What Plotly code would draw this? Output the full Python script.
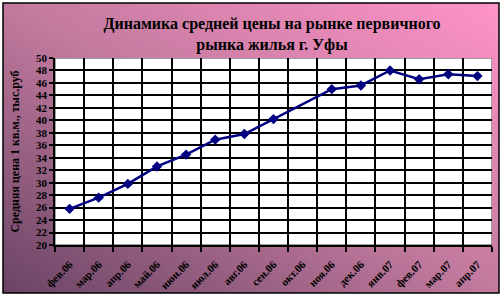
import base64
import plotly.graph_objects as go

months = ["фев.06", "мар.06", "апр.06", "май.06", "июн.06", "июл.06", "авг.06",
          "сен.06", "окт.06", "ноя.06", "дек.06", "янв.07", "фев.07", "мар.07", "апр.07"]
prices = [25.8, 27.6, 29.8, 32.6, 34.5, 36.9, 37.8, 40.2, None, 45.0, 45.6, 48.0, 46.6, 47.4, 47.1]
y_ticks = list(range(20, 51, 2))

W, H = 504, 298
L, R, T, B = 55, 12, 58, 53
pw, ph = W - L - R, H - T - B

def px2paper_x(px):
    return (px - L) / pw

def px2paper_y(py):
    return (H - B - py) / ph

svg = ('<svg xmlns="http://www.w3.org/2000/svg" width="100" height="100" preserveAspectRatio="none">'
       '<defs><linearGradient id="g" x1="0" y1="1" x2="1" y2="0">'
       '<stop offset="0" stop-color="#6a4464"/>'
       '<stop offset="0.5" stop-color="#c27a9e"/>'
       '<stop offset="1" stop-color="#ff93c8"/>'
       '</linearGradient></defs>'
       '<rect width="100" height="100" fill="url(#g)"/></svg>')
src = "data:image/svg+xml;base64," + base64.b64encode(svg.encode()).decode()

fig = go.Figure()
fig.add_trace(go.Scatter(
    x=months, y=prices, mode="lines+markers", connectgaps=True,
    line=dict(color="#000080", width=2.5),
    marker=dict(symbol="diamond", size=8, color="#000080"),
    showlegend=False, cliponaxis=False,
))

fig.add_layout_image(dict(
    source=src, xref="paper", yref="paper",
    x=px2paper_x(3), y=px2paper_y(3),
    sizex=px2paper_x(499) - px2paper_x(3), sizey=px2paper_y(3) - px2paper_y(293),
    xanchor="left", yanchor="top", sizing="stretch", layer="below",
))

# white plot area with grey border
fig.add_shape(type="rect", xref="x", yref="y", x0=-0.5, x1=len(months) - 0.5, y0=20, y1=50,
              fillcolor="white", line=dict(color="#808080", width=1.5), layer="below")
# outer black frame
fig.add_shape(type="rect", xref="paper", yref="paper",
              x0=px2paper_x(3), x1=px2paper_x(499), y0=px2paper_y(293), y1=px2paper_y(3),
              line=dict(color="black", width=1.5), fillcolor="rgba(0,0,0,0)", layer="above")

serif = "Liberation Serif"
fig.update_layout(
    width=W, height=H,
    margin=dict(l=L, r=R, t=T, b=B, autoexpand=False),
    paper_bgcolor="white", plot_bgcolor="white",
    title=dict(text="<b>Динамика средней цены на рынке первичного<br>рынка жилья г. Уфы</b>",
               x=272 / W, xanchor="center",
               y=1 - 29 / H, yanchor="middle",
               font=dict(family=serif, size=16, color="black")),
    xaxis=dict(type="category", categoryorder="array", categoryarray=months,
               range=[-0.5, len(months) - 0.5], automargin=False,
               tickson="boundaries", ticks="outside", ticklen=5, tickcolor="black", tickwidth=1.5,
               showgrid=True, gridcolor="black", gridwidth=1.5,
               showline=True, linecolor="black", linewidth=1.5,
               tickangle=-45, tickfont=dict(family=serif, size=11, color="black"),
               ticklabelstandoff=7,
               tickvals=months, ticktext=[f"<b>{m}</b>" for m in months]),
    yaxis=dict(range=[20, 50], tickvals=y_ticks, ticktext=[f"<b>{v}</b>" for v in y_ticks],
               automargin=False,
               ticks="outside", ticklen=4, tickcolor="black", tickwidth=1.5,
               showgrid=True, gridcolor="black", gridwidth=1.5,
               showline=True, linecolor="black", linewidth=1.5,
               tickfont=dict(family=serif, size=11, color="black"),
               title=dict(text="<b>Средняя цена 1 кв.м., тыс.руб</b>",
                          font=dict(family=serif, size=12, color="black"), standoff=14)),
)

fig.write_html("out.html")
